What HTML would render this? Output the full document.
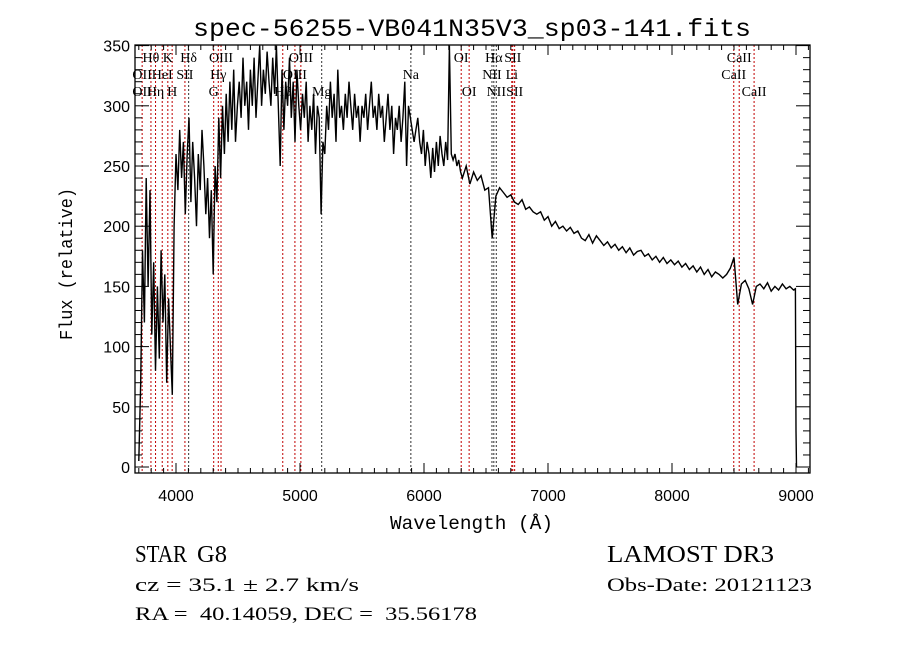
<!DOCTYPE html>
<html><head><meta charset="utf-8"><style>
html,body{margin:0;padding:0;background:#fff;}
svg{display:block;}
text{fill:#000;white-space:pre;}
</style></head><body>
<svg id="chart" width="900" height="649" xmlns="http://www.w3.org/2000/svg" style="font-family:'Liberation Serif',serif">
<rect width="900" height="649" fill="#fff"/>
<text x="193" y="36" font-family="Liberation Mono, monospace" font-size="25" textLength="558" lengthAdjust="spacingAndGlyphs">spec-56255-VB041N35V3_sp03-141.fits</text>
<g id="lines"></g>
<g id="spec"></g>
<g id="axes"></g>
<text x="390" y="529" font-family="Liberation Mono, monospace" font-size="19" textLength="163" lengthAdjust="spacingAndGlyphs">Wavelength (Å)</text>
<text transform="translate(72,340) rotate(-90)" font-family="Liberation Mono, monospace" font-size="18" textLength="152" lengthAdjust="spacingAndGlyphs">Flux (relative)</text>
<text x="135" y="562" font-size="24" textLength="52" lengthAdjust="spacingAndGlyphs">STAR</text>
<text x="197" y="562" font-size="24" textLength="30" lengthAdjust="spacingAndGlyphs">G8</text>
<text x="607" y="562" font-size="24" textLength="167" lengthAdjust="spacingAndGlyphs">LAMOST DR3</text>
<text x="135" y="591" font-size="19" textLength="224" lengthAdjust="spacingAndGlyphs">cz = 35.1 ± 2.7 km/s</text>
<text x="607" y="591" font-size="19" textLength="205" lengthAdjust="spacingAndGlyphs">Obs-Date: 20121123</text>
<text x="135" y="620" font-size="19" textLength="342" lengthAdjust="spacingAndGlyphs">RA =  40.14059, DEC =  35.56178</text>
</svg>
<script>
const xTicks = [4000,5000,6000,7000,8000,9000];
const yTicks = [0,50,100,150,200,250,300,350];
const blueStart = 3700, blueStep = 15;
const blueFlux = [5,70,180,120,240,150,230,110,170,80,
150,90,180,120,160,70,140,100,60,200,
260,230,280,240,270,210,260,290,220,270,
240,200,260,230,280,250,210,240,190,230,
160,250,220,290,240,300,260,310,270,320,
280,330,270,300,320,290,340,300,320,280,
330,300,340,290,320,350,300,330,310,345,
320,300,340,310,350,300,250,330,280,320,
300,340,290,320,270,330,300,280,310,290,
320,270,300,280,310,260,300,290,210,270,
260,300,280,320,290,310,270,330,290,300,
280,310,290,320,300,280,310,290,300,270,
300,290,310,280,300,320,290,300,280,310,
290,300,270,290,310,280,300,260,290,280,
300,270,290,320,250,300,290,280,270,280,
290,270,260,280,250,270,260,240,265,245,
270,250,275,260,250,270,255,350,260,255,
260,250,255,245];
const redStart = 6310, redStep = 30;
const redFlux = [240,250,235,245,238,242,230,232,190,225,
232,228,224,226,220,218,222,214,216,212,
210,212,205,208,200,204,198,200,196,199,
194,196,190,188,193,186,192,188,184,187,
182,185,180,183,178,182,176,179,180,175,
177,172,175,170,174,169,172,168,171,166,
169,164,167,162,166,160,164,158,162,160,
157,160,165,174,135,152,155,148,135,150,
152,148,153,146,150,147,152,148,150,147];
const tailWave = [8995,9000,9004];
const tailFlux = [148,30,0];
const lineWaves = [3727,3798,3835,3889,3934,3969,4072,4102,4304,4341,4363,4861,4959,5007,5175,5894,6300,6364,6548,6563,6583,6708,6716,6731,8498,8542,8662];
const lineColors = ['r','r','r','r','r','r','r','k','r','r','r','r','r','r','k','k','r','r','k','k','k','r','r','r','r','r','r'];
const labelText = ['Hθ','K','Hδ','OIII','OIII','OI','Hα','SII','CaII','OII','HeI','SII','Hγ','OIII','Na','NII','Li','CaII','OII','Hη','H','G','Hβ','Mg','OI','NII','SII','CaII'];
const labelWave = [3798,3934,4102,4363,5007,6300,6563,6716,8542,3727,3889,4072,4341,4959,5894,6548,6708,8498,3727,3835,3969,4304,4861,5175,6364,6583,6731,8662];
const labelRow = [0,0,0,0,0,0,0,0,0,1,1,1,1,1,1,1,1,1,2,2,2,2,2,2,2,2,2,2];

const L=135,R=810,T=45,B=473;
const X = w => 176 + (w-4000)*0.124;
const Y = f => 467 - f*1.204;
const NS='http://www.w3.org/2000/svg';
function mk(tag, parent, attrs){const e=document.createElementNS(NS,tag);for(const k in attrs)e.setAttribute(k,attrs[k]);parent.appendChild(e);return e;}

const gl=document.getElementById('lines');
lineWaves.forEach((w,i)=>{
  const l=mk('line',gl,{x1:X(w),x2:X(w),y1:T,y2:B,stroke:lineColors[i]==='r'?'#c00000':'#333','stroke-width':1,'stroke-dasharray':'2,2'});
  
  
});
labelText.forEach((t,i)=>{
  const tx=mk('text',gl,{x:X(labelWave[i]),y:62+labelRow[i]*17,'text-anchor':'middle','font-size':14});
  tx.textContent=t;
  
  
});

const gs=document.getElementById('spec');
let pts=[];
blueFlux.forEach((f,i)=>pts.push([blueStart+i*blueStep,f]));
redFlux.forEach((f,i)=>pts.push([redStart+i*redStep,f]));
tailFlux.forEach((f,i)=>pts.push([tailWave[i],f]));
const d=pts.map((p,i)=>(i?'L':'M')+X(p[0]).toFixed(1)+','+Math.max(T,Y(p[1])).toFixed(1)).join('');
const path=mk('path',gs,{d:d,fill:'none',stroke:'#000','stroke-width':1.4,'stroke-linejoin':'miter'});



const ga=document.getElementById('axes');
const frame=mk('rect',ga,{x:L,y:T,width:R-L,height:B-T,fill:'none',stroke:'#000','stroke-width':1.3});


for(let w=3700;w<=9100;w+=100){
  const x=X(w); if(x<L||x>R)continue;
  const maj=w%1000===0, len=maj?10:5;
  mk('line',ga,{x1:x,x2:x,y1:B,y2:B-len,stroke:'#000','stroke-width':1});
  mk('line',ga,{x1:x,x2:x,y1:T,y2:T+len,stroke:'#000','stroke-width':1});
}
for(let f=0;f<=350;f+=10){
  const y=Y(f); const maj=f%50===0, len=maj?14:7;
  mk('line',ga,{x1:L,x2:L+len,y1:y,y2:y,stroke:'#000','stroke-width':1});
  mk('line',ga,{x1:R,x2:R-len,y1:y,y2:y,stroke:'#000','stroke-width':1});
}
xTicks.forEach(v=>{
  const t=mk('text',ga,{x:X(v),y:501,'text-anchor':'middle','font-family':'Liberation Sans, sans-serif','font-size':16});
  t.textContent=v;
  
  
});
yTicks.forEach(v=>{
  const t=mk('text',ga,{x:130,y:Y(v)+6,'text-anchor':'end','font-family':'Liberation Sans, sans-serif','font-size':16});
  t.textContent=v;
  
  
});
</script>
</body></html>
